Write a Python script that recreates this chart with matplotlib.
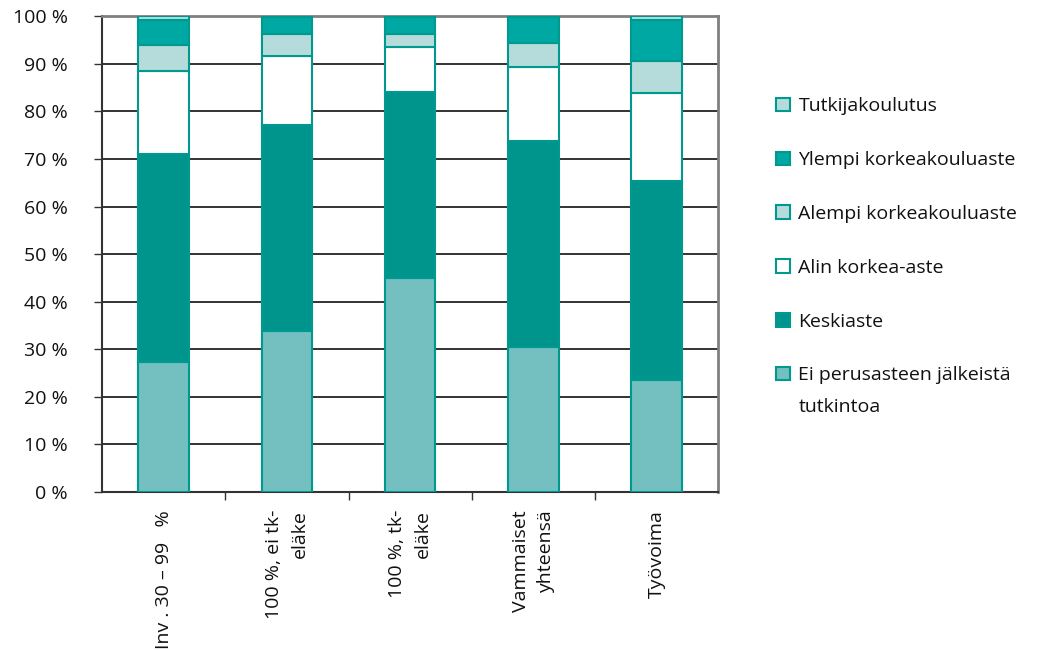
import matplotlib
matplotlib.use("Agg")
import matplotlib.pyplot as plt
from matplotlib.patches import Patch

plt.rcParams['font.family'] = ['Open Sans', 'DejaVu Sans']

categories = ["Inv . 30 – 99   %", "100 %, ei tk-\neläke", "100 %, tk-\neläke",
              "Vammaiset\nyhteensä", "Työvoima"]
series_names = ["Ei perusasteen jälkeistä", "Keskiaste", "Alin korkea-aste",
                "Alempi korkeakouluaste", "Ylempi korkeakouluaste", "Tutkijakoulutus"]
first_name_cont = "tutkintoa"
ei_perus = [27.3, 33.8, 45.0, 30.5, 23.5]
keskiaste = [43.7, 43.3, 39.0, 43.2, 41.8]
alin = [17.4, 14.5, 9.5, 15.6, 18.5]
alempi = [5.5, 4.6, 2.7, 5.0, 6.7]
ylempi = [5.3, 3.6, 3.6, 5.6, 8.7]
tutkija = [0.8, 0.2, 0.2, 0.1, 0.8]
yticks = [0, 10, 20, 30, 40, 50, 60, 70, 80, 90, 100]
ytick_labels = [f"{v} %" for v in yticks]

series = [ei_perus, keskiaste, alin, alempi, ylempi, tutkija]
colors = ["#74C0C0", "#00958C", "#FFFFFF", "#B5DCDB", "#00A8A3", "#B5DCDB"]
edge = "#00998F"

fig = plt.figure(figsize=(10.41, 6.5), dpi=100)
ax = fig.add_axes([0.098, 0.243, 0.592, 0.732])

x = list(range(len(categories)))
bottom = [0.0] * len(categories)
handles = []
for vals, col, name in zip(series, colors, series_names):
    ax.bar(x, vals, bottom=bottom, width=0.41, color=col, edgecolor=edge,
           linewidth=1.5, zorder=3)
    bottom = [b + v for b, v in zip(bottom, vals)]
    handles.append(Patch(facecolor=col, edgecolor=edge, linewidth=1.5, label=name))

ax.set_xlim(-0.5, 4.5)
ax.set_ylim(0, 100)
ax.set_yticks(yticks)
ax.set_yticklabels(ytick_labels, fontsize=14, color="#111111")
ax.yaxis.grid(True, color="#111111", linewidth=1.2, zorder=0)
ax.set_axisbelow(True)
ax.tick_params(axis='y', direction='out', length=6, width=1, color="#333333", pad=18.5)

ax.set_xticks(x)
ax.set_xticklabels(categories, rotation=90, fontsize=14, va='top', ha='center',
                   multialignment='right', color="#111111", linespacing=1.55)
ax.set_xticks([0.5, 1.5, 2.5, 3.5], minor=True)
ax.tick_params(axis='x', which='major', length=0, pad=13)
ax.tick_params(axis='x', which='minor', direction='out', length=6, width=1, color="#333333")

for s in ['left', 'bottom']:
    ax.spines[s].set_color("#333333")
    ax.spines[s].set_linewidth(1.5)
for s in ['top', 'right']:
    ax.spines[s].set_color("#808080")
    ax.spines[s].set_linewidth(2)

leg = fig.legend(handles=handles[::-1], loc='upper left', bbox_to_anchor=(0.738, 0.862),
                 frameon=False, fontsize=14, labelspacing=1.84, handlelength=0.7,
                 handleheight=0.7, handletextpad=0.45, borderaxespad=0)
for t in leg.get_texts():
    t.set_color("#111111")

fig.canvas.draw()
last = leg.get_texts()[-1]
bb = last.get_window_extent()
fw, fh = fig.bbox.width, fig.bbox.height
fig.text(bb.x0 / fw, (bb.y0 - 32) / fh, first_name_cont, fontsize=14, color="#111111",
         ha='left', va='bottom')

fig.savefig("out.png", dpi=100)
